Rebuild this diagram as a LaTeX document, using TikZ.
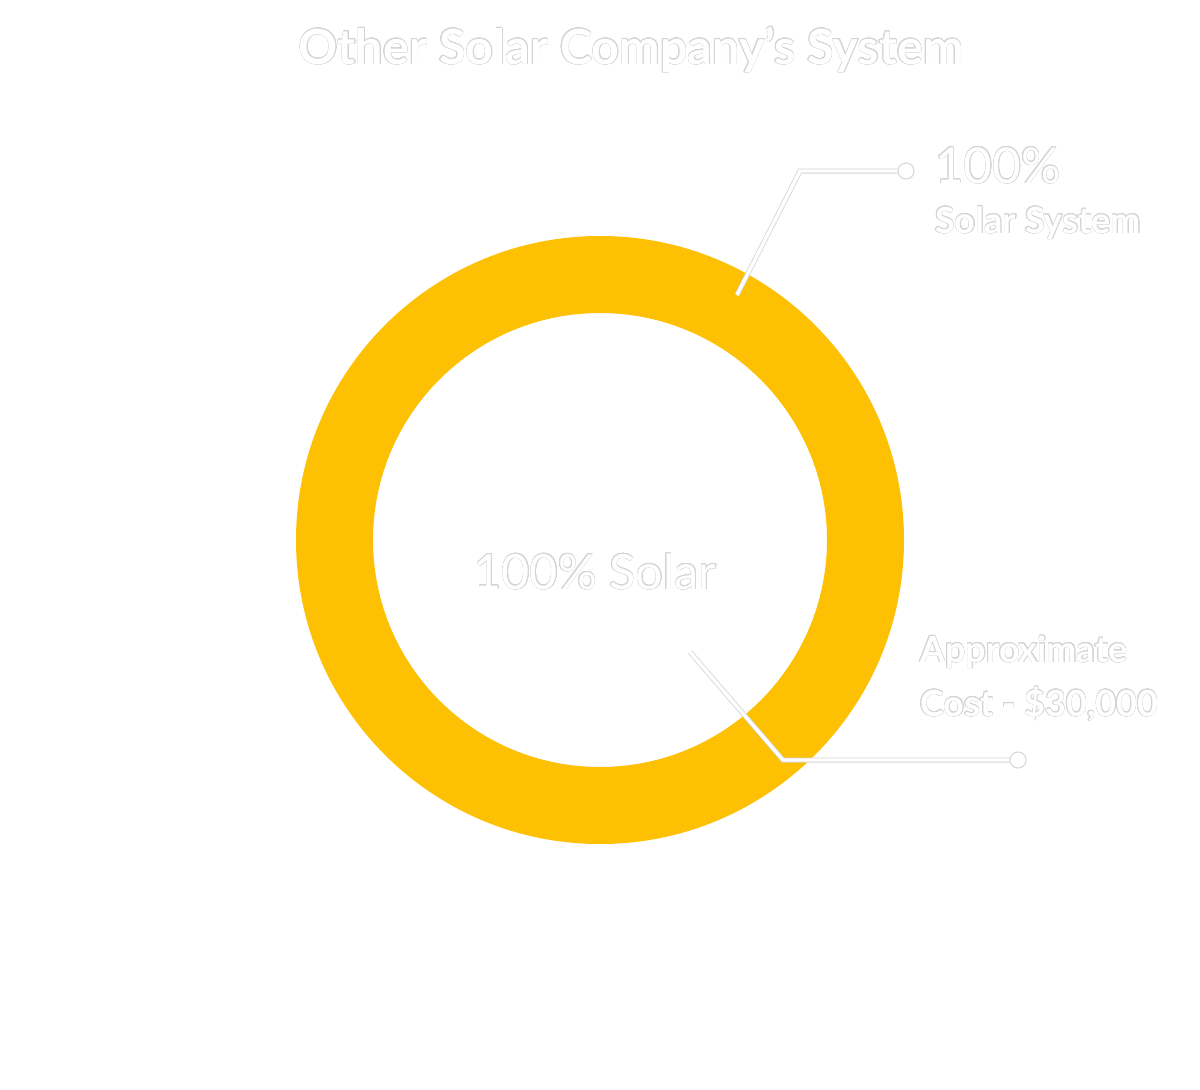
\documentclass[tikz,border=0pt]{standalone}
\usepackage{fontspec}
\setmainfont{Lato}
\newfontfamily\latobold{Lato Bold}
\usepackage{xcolor}
\usepackage{contour}
\contourlength{0.5pt}
\definecolor{sunyellow}{RGB}{253,192,3}
\definecolor{rimgray}{RGB}{212,212,212}
\newcommand{\ghost}[1]{\contour{rimgray}{\textcolor{white}{#1}}}

\begin{document}
\begin{tikzpicture}[x=1pt, y=-1pt,
    lbl/.style={inner sep=0pt, anchor=base west},
    lead/.style={line width=5pt, draw=rimgray, line join=miter},
    leadfill/.style={line width=3.4pt, draw=white, line join=miter},
    dot/.style={circle, draw=rimgray, fill=white, line width=0.8pt, minimum size=16pt, inner sep=0pt}]
    \useasboundingbox[fill=white] (0,0) rectangle (1200,1090);
    % ring
    \fill[sunyellow, even odd rule] (600,540) circle (304) (600,540) circle (227);
    % texts
    \node[inner sep=0pt, anchor=base] (title) at (631,64) {\fontsize{48.5}{58}\selectfont\latobold\ghost{Other Solar Company’s System}};
    \node[lbl] (pct) at (935,183) {\fontsize{49.5}{60}\selectfont\ghost{100\%}};
    \node[lbl] (sys) at (935,233) {\fontsize{36}{42}\selectfont\latobold\ghost{Solar System}};
    \node[inner sep=0pt, anchor=base] (mid) at (595,589) {\fontsize{48.5}{56}\selectfont\ghost{100\% Solar}};
    \node[lbl] (approx) at (920,662) {\fontsize{36}{44}\selectfont\latobold\ghost{Approximate}};
    \node[lbl] (cost) at (920,716) {\fontsize{36}{44}\selectfont\latobold\ghost{Cost - \$30,000}};
    % leader lines
    \coordinate (topend) at (737,295);
    \coordinate (topbend) at (800,171);
    \coordinate (lowend) at (690,652);
    \coordinate (lowbend) at (783,760);
    \node[dot] (topdot) at (906,171) {};
    \node[dot] (lowdot) at (1018,760) {};
    \draw[lead] (topend) -- (topbend) -- (topdot.west);
    \draw[lead] (lowend) -- (lowbend) -- (lowdot.west);
    \draw[leadfill] (topend) -- (topbend) -- (topdot.west);
    \draw[leadfill] (lowend) -- (lowbend) -- (lowdot.west);
    \node[dot] at (topdot) {};
    \node[dot] at (lowdot) {};
\end{tikzpicture}
\end{document}
